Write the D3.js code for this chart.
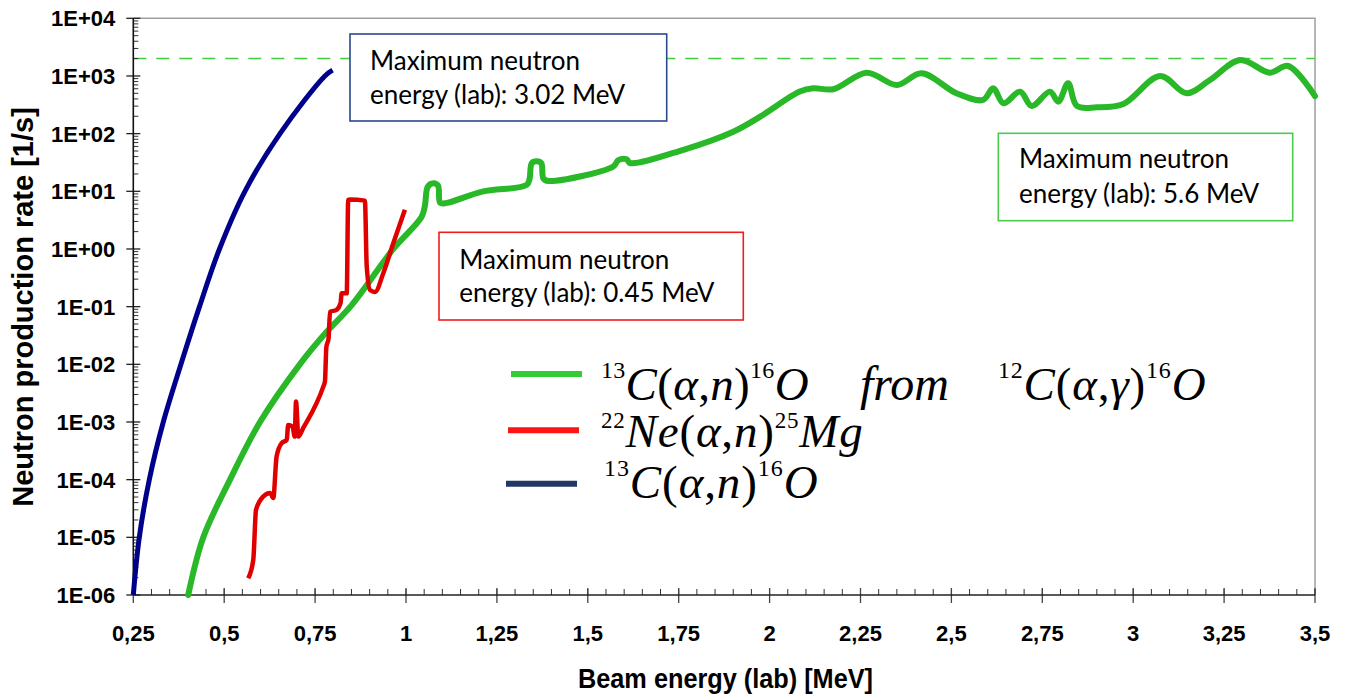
<!DOCTYPE html>
<html><head><meta charset="utf-8">
<script src="https://cdn.jsdelivr.net/npm/d3@7"></script>
<style>body{margin:0;background:#fff} svg{display:block}</style>
</head><body><svg id="chart" width="1346" height="696"></svg>
<script>
// ---------- data ----------
const xTicks = [0.25,0.5,0.75,1,1.25,1.5,1.75,2,2.25,2.5,2.75,3,3.25,3.5];
const xTickLabels = ["0,25","0,5","0,75","1","1,25","1,5","1,75","2","2,25","2,5","2,75","3","3,25","3,5"];
const yTicks = [1e-6,1e-5,1e-4,1e-3,1e-2,1e-1,1e0,1e1,1e2,1e3,1e4];
const yTickLabels = ["1E-06","1E-05","1E-04","1E-03","1E-02","1E-01","1E+00","1E+01","1E+02","1E+03","1E+04"];
const xTitle = "Beam energy (lab) [MeV]";
const yTitle = "Neutron production rate [1/s]";

// 13C(a,n)16O from 12C(a,g)16O  (green)
const greenE = [0.401,0.4425,0.516,0.5985,0.708,0.78,0.85,0.965,1.043,1.052,1.06,1.075,1.088,1.094,1.112,1.21,1.332,1.34,1.346,1.36,1.372,1.378,1.392,1.57,1.584,1.607,1.616,1.763,1.9,1.974,2.083,2.12,2.175,2.267,2.35,2.418,2.514,2.587,2.615,2.643,2.689,2.721,2.771,2.794,2.821,2.845,2.9,2.973,3.074,3.147,3.211,3.294,3.376,3.426,3.5];
const greenRate = [1e-6,1e-5,1e-4,1e-3,1e-2,3.55e-2,0.105,1.0,3.63,5.62,12.0,13.8,12.6,6.31,6.31,9.89,12.9,16.6,30.9,33.1,30.9,16.6,15.1,26.9,34.7,35.9,30.9,52.5,108,197,537,612,589,1140,698,1114,501,384,612,336,535,302,535,359,748,302,286,327,1000,501,851,1892,1140,1489,447];

// 22Ne(a,n)25Mg (red)
const redE = [0.566,0.58,0.5875,0.6075,0.626,0.635,0.644,0.658,0.672,0.676,0.688,0.694,0.6975,0.704,0.7175,0.7725,0.777,0.781,0.787,0.791,0.809,0.82,0.823,0.837,0.841,0.846,0.887,0.892,0.901,0.915,0.9375,0.965,0.997];
const redRate = [1.95e-6,4.1e-6,3.0e-5,5.1e-5,5.9e-5,4.8e-5,2.5e-4,4.3e-4,4.9e-4,8.9e-4,8.3e-4,5.6e-4,2.26e-3,5.6e-4,7.9e-4,4.1e-3,5.0e-3,2.0e-2,2.8e-2,8.1e-2,8.8e-2,0.115,0.17,0.17,7.1,7.2,6.9,0.5,0.195,0.18,0.38,1.26,4.8];

// 13C(a,n)16O (blue)
const blueE = [0.25,0.2665,0.294,0.3325,0.381,0.432,0.487,0.557,0.6535,0.777,0.798];
const blueRate = [1e-6,1e-5,1e-4,1e-3,1e-2,0.1,1,10,100,1000,1260];

const dashedLevel = 2000;

const annotBlue = ["Maximum neutron","energy (lab): 3.02 MeV"];
const annotRed = ["Maximum neutron","energy (lab): 0.45 MeV"];
const annotGreen = ["Maximum neutron","energy (lab): 5.6 MeV"];

const legendGreenA = [["13","sup"],["C","it"],["(","rm"],["α","it"],[",","rm"],["n","it"],[")","rm"],["16","sup"],["O","it"]];
const legendGreenFrom = "from";
const legendGreenB = [["12","sup"],["C","it"],["(","rm"],["α","it"],[",","rm"],["γ","it"],[")","rm"],["16","sup"],["O","it"]];
const legendRed = [["22","sup"],["Ne","it"],["(","rm"],["α","it"],[",","rm"],["n","it"],[")","rm"],["25","sup"],["Mg","it"]];
const legendBlue = [["13","sup"],["C","it"],["(","rm"],["α","it"],[",","rm"],["n","it"],[")","rm"],["16","sup"],["O","it"]];

// ---------- chart ----------
const svg = d3.select("#chart");
const L = 133.3, R = 1315, T = 18.3, B = 595;
const x = d3.scaleLinear().domain([0.25, 3.5]).range([L, R]);
const y = d3.scaleLog().domain([1e-6, 1e4]).range([B, T]);

// frame (top/right)
svg.append("path").attr("d", `M${L},${T}H${R}V${B}`).attr("fill","none").attr("stroke","#a0a0a0").attr("stroke-width",1.5);

// dashed level
svg.append("line").attr("x1", x(0.25)).attr("x2", x(3.5)).attr("y1", y(dashedLevel)).attr("y2", y(dashedLevel))
  .attr("stroke","#3fcf3f").attr("stroke-width",1.5).attr("stroke-dasharray","13,10");

// y axis
const yMinor = [];
for (let e = -6; e < 4; e++) for (let k = 2; k <= 9; k++) yMinor.push(k * Math.pow(10, e));
const yAx = svg.append("g");
yAx.selectAll("line.minor").data(yMinor).join("line").attr("class","minor")
  .attr("x1", L).attr("x2", L + 5).attr("y1", d => y(d)).attr("y2", d => y(d)).attr("stroke","#333").attr("stroke-width",1);
yAx.selectAll("line.major").data(yTicks).join("line").attr("class","major")
  .attr("x1", L - 7).attr("x2", L + 7).attr("y1", d => y(d)).attr("y2", d => y(d)).attr("stroke","#222").attr("stroke-width",1.3);
yAx.append("line").attr("x1", L).attr("x2", L).attr("y1", T).attr("y2", B).attr("stroke","#111").attr("stroke-width",1.6);
yAx.selectAll("text").data(yTicks).join("text")
  .attr("x", L - 18).attr("y", d => y(d)).attr("dy","0.36em").attr("text-anchor","end")
  .attr("font-family","'Liberation Sans',Arial,sans-serif").attr("font-weight","bold").attr("font-size",22)
  .text((d, i) => yTickLabels[i]);

// x axis
const xMinor = d3.range(0.25, 3.5001, 0.05).map(v => +v.toFixed(2));
const xAx = svg.append("g");
xAx.selectAll("line.minor").data(xMinor).join("line").attr("class","minor")
  .attr("x1", d => x(d)).attr("x2", d => x(d)).attr("y1", B - 6).attr("y2", B).attr("stroke","#333").attr("stroke-width",1);
xAx.selectAll("line.major").data(xTicks).join("line").attr("class","major")
  .attr("x1", d => x(d)).attr("x2", d => x(d)).attr("y1", B - 7).attr("y2", B + 8).attr("stroke","#444").attr("stroke-width",1.3);
xAx.append("line").attr("x1", L).attr("x2", R).attr("y1", B).attr("y2", B).attr("stroke","#222").attr("stroke-width",1.6);
xAx.selectAll("text").data(xTicks).join("text")
  .attr("x", d => x(d)).attr("y", 641).attr("text-anchor","middle")
  .attr("font-family","'Liberation Sans',Arial,sans-serif").attr("font-weight","bold").attr("font-size",22)
  .text((d, i) => xTickLabels[i]);

// titles
svg.append("text").attr("transform","translate(33,307) rotate(-90)").attr("text-anchor","middle")
  .attr("font-family","'Liberation Sans',Arial,sans-serif").attr("font-weight","bold").attr("font-size",29).text(yTitle);
svg.append("text").attr("x", 725.5).attr("y", 688).attr("text-anchor","middle")
  .attr("font-family","'Liberation Sans',Arial,sans-serif").attr("font-weight","bold").attr("font-size",27)
  .attr("textLength",295).attr("lengthAdjust","spacingAndGlyphs").text(xTitle);

// curves
const zip = (a, b) => a.map((v, i) => [v, b[i]]);
const smooth = d3.line().x(d => x(d[0])).y(d => y(d[1])).curve(d3.curveCatmullRom.alpha(0.5));
const mono = d3.line().x(d => x(d[0])).y(d => y(d[1])).curve(d3.curveMonotoneX);
svg.append("path").attr("d", smooth(zip(greenE, greenRate))).attr("fill","none").attr("stroke","#28b828").attr("stroke-width",6).attr("stroke-linejoin","round").attr("stroke-linecap","round");
svg.append("path").attr("d", mono(zip(redE, redRate))).attr("fill","none").attr("stroke","#e00000").attr("stroke-width",4.5).attr("stroke-linejoin","round");
svg.append("path").attr("d", smooth(zip(blueE, blueRate))).attr("fill","none").attr("stroke","#00008b").attr("stroke-width",5);

// annotation boxes
function annot(bx, by, bw, bh, color, tx, base1, base2, lines) {
  svg.append("rect").attr("x", bx).attr("y", by).attr("width", bw).attr("height", bh)
    .attr("fill","#fff").attr("stroke", color).attr("stroke-width",1.6);
  const t = svg.append("g").attr("font-family","Lato,'Open Sans',sans-serif").attr("font-size",26).attr("fill","#000");
  t.append("text").attr("x", tx).attr("y", base1).text(lines[0]);
  t.append("text").attr("x", tx).attr("y", base2).text(lines[1]);
}
annot(350, 34, 316.7, 87, "#2a4a8c", 370, 70, 104, annotBlue);
annot(439, 232.3, 304.3, 87.7, "#f21c1c", 459.3, 269, 302, annotRed);
annot(998.3, 133.3, 294.4, 87.4, "#4ccc4c", 1019, 168.3, 202.7, annotGreen);

// legend
function formula(x0, y0, size, segs, spacing, supShift, supSize) {
  const t = svg.append("text").attr("x", x0).attr("y", y0)
    .attr("font-family","'Liberation Serif','Times New Roman',serif").attr("font-size", size)
    .attr("letter-spacing", spacing).attr("fill","#000");
  let shift = 0;
  segs.forEach(([s, kind]) => {
    const ts = t.append("tspan").text(s);
    const target = kind === "sup" ? -supShift : 0;
    ts.attr("dy", target - shift); shift = target;
    if (kind === "sup") ts.attr("font-size", supSize);
    if (kind === "it") ts.attr("font-style","italic");
  });
  return t;
}
svg.append("line").attr("x1",511).attr("x2",582).attr("y1",374).attr("y2",374).attr("stroke","#33cc33").attr("stroke-width",6);
svg.append("line").attr("x1",508).attr("x2",579).attr("y1",430.3).attr("y2",430.3).attr("stroke","#ff1414").attr("stroke-width",6);
svg.append("line").attr("x1",506).attr("x2",577).attr("y1",483.7).attr("y2",483.7).attr("stroke","#1f3864").attr("stroke-width",6);
formula(601, 400, 47, legendGreenA, 0.3, 22, 24);
svg.append("text").attr("x", 860).attr("y", 400).attr("font-family","'Liberation Serif','Times New Roman',serif")
  .attr("font-size",48).attr("font-style","italic").text(legendGreenFrom);
formula(998, 400, 47, legendGreenB, 0.8, 22, 24);
formula(601, 447, 47, legendRed, 0.8, 19, 23);
formula(604, 498, 47, legendBlue, 0.9, 22, 24);
</script></body></html>
